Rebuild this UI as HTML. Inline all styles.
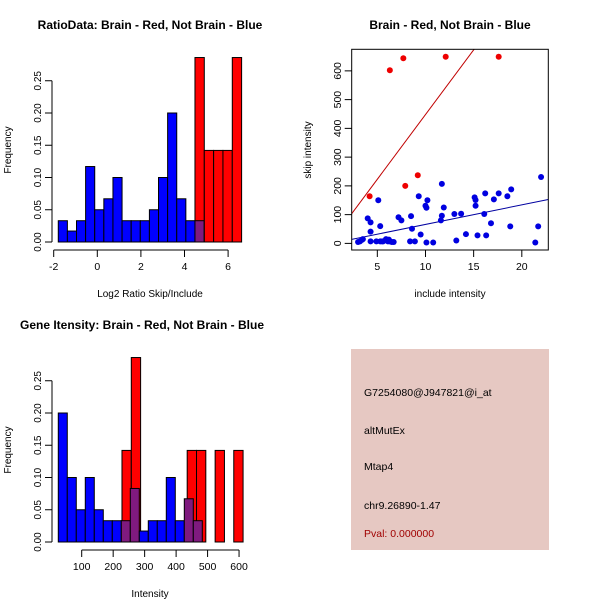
<!DOCTYPE html>
<html><head><meta charset="utf-8"><style>
body{margin:0;background:#fff}
svg{display:block;font-family:"Liberation Sans",Arial,sans-serif}
</style></head><body>
<svg id="c" width="600" height="600" xmlns="http://www.w3.org/2000/svg">
<rect width="600" height="600" fill="#fff"/>
<text x="150" y="29" font-size="12" font-weight="bold" text-anchor="middle">RatioData: Brain - Red, Not Brain - Blue</text>
<text x="450" y="29" font-size="12" font-weight="bold" text-anchor="middle">Brain - Red, Not Brain - Blue</text>
<text x="142" y="329" font-size="12" font-weight="bold" text-anchor="middle">Gene Itensity: Brain - Red, Not Brain - Blue</text>
<g id="p1"></g>
<g id="p2"></g>
<g id="p3"></g>
<g>
<rect x="351" y="349" width="198" height="201" fill="#e6c8c2"/>
<text x="364" y="396" font-size="10.5">G7254080@J947821@i_at</text>
<text x="364" y="434" font-size="10.5">altMutEx</text>
<text x="364" y="470" font-size="10.5">Mtap4</text>
<text x="364" y="509" font-size="10.5">chr9.26890-1.47</text>
<text x="364" y="537" font-size="10.5" fill="#a00000">Pval: 0.000000</text>
</g>
</svg>
<script>
// Ratio histogram data
const ratioBlueStart = -1.79, ratioBlueWidth = 0.418;
const ratioBlue = [0.033,0.017,0.033,0.117,0.05,0.067,0.1,0.033,0.033,0.033,0.05,0.1,0.2,0.067,0.033,0.033];
const ratioRedStart = 4.48, ratioRedWidth = 0.428;
const ratioRed = [0.286,0.142,0.142,0.142,0.286];
const ratioXTicks = [-2,0,2,4,6];
const freqTicks = ["0.00","0.05","0.10","0.15","0.20","0.25"];
// Intensity histogram data
const intBlueStart = 25.6, intBlueWidth = 28.6;
const intBlue = [0.2,0.1,0.05,0.1,0.05,0.033,0.033,0.033,0.083,0.017,0.033,0.033,0.1,0.033,0.067,0.033];
const intRedStart = 228, intRedWidth = 29.6;
const intRed = [0.142,0.286,0,0,0,0,0,0.142,0.142,0,0.142,0,0.142];
const intXTicks = [100,200,300,400,500,600];
// Scatter data
const blueX = [3.0,3.4,3.5,4.0,4.3,4.3,4.3,5.1,5.3,4.9,5.3,5.6,5.9,6.1,6.3,6.5,6.7,7.2,7.5,8.5,8.6,8.4,8.9,9.3,9.5,10.1,10.0,10.1,10.2,10.8,11.7,11.7,11.6,11.9,13.0,13.2,13.7,14.2,15.2,15.2,15.1,15.4,16.1,16.2,16.3,16.8,17.1,17.6,18.5,18.8,18.9,21.4,21.7,22.0,3.2,5.5,6.2];
const blueY = [5,12,15,87,41,73,7,150,60,7,7,7,15,7,7,5,5,91,80,95,51,7,7,164,31,124,131,3,150,3,207,96,80,125,102,10,103,32,131,151,160,28,102,174,28,70,153,174,164,59,188,3,59,231,7,7,13];
const redX = [4.2,6.3,7.7,12.1,17.6,7.9,9.2];
const redY = [164,602,644,649,649,200,237];
const redLine = [-2, 45];   // intercept, slope
const blueLine = [-2, 6.8];
const scXTicks = [5,10,15,20];
const scYTicks = [0,100,200,300,400,500,600];

const NS="http://www.w3.org/2000/svg";
function mk(parent,tag,attrs){const e=document.createElementNS(NS,tag);for(const k in attrs)e.setAttribute(k,attrs[k]);parent.appendChild(e);return e;}

function hist(g,oy,xmap,xticks,tickLbl,xlabel,bs,bw,bv,rs,rw,rv){
  const ymap=v=>oy+242-v*645;
  for(let i=0;i<rv.length;i++){ if(rv[i]<=0)continue;
    const x0=xmap(rs+i*rw),x1=xmap(rs+(i+1)*rw);
    const r=mk(g,'rect',{x:x0,y:ymap(rv[i]),width:x1-x0,height:rv[i]*645,fill:'#ff0000',stroke:'#000','stroke-width':1});
    
    
  }
  for(let i=0;i<bv.length;i++){
    const a=bs+i*bw,b=bs+(i+1)*bw,c=(a+b)/2;
    const ri=Math.floor((c-rs)/rw);
    const ov=ri>=0&&ri<rv.length&&rv[ri]>0;
    const x0=xmap(a),x1=xmap(b);
    const r=mk(g,'rect',{x:x0,y:ymap(bv[i]),width:x1-x0,height:bv[i]*645,fill:ov?'#7f1a7f':'#0000ff',stroke:'#000','stroke-width':1});
    
    
  }
  const ya=mk(g,'g',{});
  
  
  mk(ya,'line',{x1:52,x2:52,y1:ymap(0),y2:ymap(0.25),stroke:'#000'});
  freqTicks.forEach(t=>{const y=ymap(+t);mk(ya,'line',{x1:45,x2:52,y1:y,y2:y,stroke:'#000'});
    const tx=mk(ya,'text',{x:0,y:0,'font-size':10,'text-anchor':'middle',transform:`translate(41,${y}) rotate(-90)`});tx.textContent=t;});
  const yl=mk(g,'text',{'font-size':10,'text-anchor':'middle',transform:`translate(11,${oy+150}) rotate(-90)`});
  yl.textContent='Frequency';
  
  
  const xa=mk(g,'g',{});
  
  
  const ay=oy+250;
  mk(xa,'line',{x1:xmap(xticks[0]),x2:xmap(xticks[xticks.length-1]),y1:ay,y2:ay,stroke:'#000'});
  xticks.forEach(t=>{const x=xmap(t);mk(xa,'line',{x1:x,x2:x,y1:ay,y2:ay+7,stroke:'#000'});
    const tx=mk(xa,'text',{x:x,y:ay+20,'font-size':10.5,'text-anchor':'middle'});tx.textContent=tickLbl(t);});
  const xl=mk(g,'text',{x:150,y:oy+297,'font-size':10,'text-anchor':'middle'});
  xl.textContent=xlabel;
  
  
}
hist(document.getElementById('p1'),0,v=>53.7+(v+2)*21.8,ratioXTicks,t=>String(t),'Log2 Ratio Skip/Include',ratioBlueStart,ratioBlueWidth,ratioBlue,ratioRedStart,ratioRedWidth,ratioRed);
hist(document.getElementById('p3'),300,v=>81.7+(v-100)*0.3147,intXTicks,t=>String(t),'Intensity',intBlueStart,intBlueWidth,intBlue,intRedStart,intRedWidth,intRed);

(function(){
  const g=document.getElementById('p2');
  const L=351.7,R=548.3,T=49.3,B=250;
  const xmin=2.34,xmax=22.75,ymin=-23,ymax=675;
  const sx=v=>L+(v-xmin)/(xmax-xmin)*(R-L);
  const sy=v=>B-(v-ymin)/(ymax-ymin)*(B-T);
  mk(g,'clipPath',{id:'sc'});
  mk(g.lastChild,'rect',{x:L,y:T,width:R-L,height:B-T});
  const lines=[[redLine,'#c00000'],[blueLine,'#0000a0']];
  lines.forEach(([c,col])=>{
    const l=mk(g,'line',{x1:sx(xmin),y1:sy(c[0]+c[1]*xmin),x2:sx(xmax),y2:sy(c[0]+c[1]*xmax),stroke:col,'stroke-width':1,'clip-path':'url(#sc)'});
    
    
  });
  blueX.forEach((x,i)=>{const p=mk(g,'circle',{cx:sx(x),cy:sy(blueY[i]),r:3,fill:'#0000e0'});
    
    });
  redX.forEach((x,i)=>{const p=mk(g,'circle',{cx:sx(x),cy:sy(redY[i]),r:3,fill:'#ee0000'});
    
    });
  const box=mk(g,'rect',{x:L,y:T,width:R-L,height:B-T,fill:'none',stroke:'#000'});
  
  
  scXTicks.forEach(t=>{const x=sx(t);mk(g,'line',{x1:x,x2:x,y1:B,y2:B+7,stroke:'#000'});
    const tx=mk(g,'text',{x:x,y:B+20,'font-size':10.5,'text-anchor':'middle'});tx.textContent=t;});
  scYTicks.forEach(t=>{const y=sy(t);mk(g,'line',{x1:L-7,x2:L,y1:y,y2:y,stroke:'#000'});
    const tx=mk(g,'text',{'font-size':10.5,'text-anchor':'middle',transform:`translate(341,${y}) rotate(-90)`});tx.textContent=t;});
  const xl=mk(g,'text',{x:450,y:297,'font-size':10,'text-anchor':'middle'});
  xl.textContent='include intensity';
  
  
  const yl=mk(g,'text',{'font-size':10,'text-anchor':'middle',transform:'translate(311,150) rotate(-90)'});
  yl.textContent='skip intensity';
  
  
})();
</script>
</body></html>
